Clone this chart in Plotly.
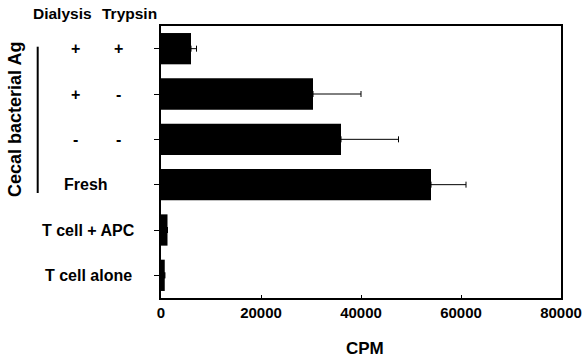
import plotly.graph_objects as go

# Data
row_ids = ["r1", "r2", "r3", "r4", "r5", "r6"]
dialysis = ["+", "+", "-", "", "", ""]
trypsin = ["+", "-", "-", "", "", ""]
row_labels = ["", "", "", "Fresh", "T cell + APC", "T cell alone"]
cpm = [6000, 30400, 36000, 54000, 1300, 750]
cpm_err = [1100, 9600, 11500, 7000, 0, 0]
x_ticks = [0, 20000, 40000, 60000, 80000]

FONT = "Liberation Sans, Arial, Helvetica, sans-serif"

fig = go.Figure()
fig.add_trace(go.Bar(
    y=row_ids, x=cpm, orientation="h",
    marker=dict(color="black", line=dict(width=0)),
    width=0.69,
    error_x=dict(type="data", array=cpm_err, arrayminus=[0]*len(cpm_err),
                 symmetric=False, color="black", thickness=1, width=3),
))

L, R, T, B = 161, 21, 26, 63
W, H = 582, 361
pw, ph = W - L - R, H - T - B

def px_x(x):
    return (x - L) / pw

def px_y(y):
    return (H - B - y) / ph

ann = []
bold = dict(family=FONT, size=16, color="black", weight="bold")
hdr = dict(family=FONT, size=15.5, color="black", weight="bold")
ann.append(dict(text="Dialysis", x=px_x(62.5), y=px_y(13.5), xref="paper", yref="paper",
                showarrow=False, xanchor="center", yanchor="middle", font=hdr))
ann.append(dict(text="Trypsin", x=px_x(129.5), y=px_y(13.5), xref="paper", yref="paper",
                showarrow=False, xanchor="center", yanchor="middle", font=hdr))
for rid, d, t, lab in zip(row_ids, dialysis, trypsin, row_labels):
    if d:
        ann.append(dict(text=d, x=px_x(75), y=rid, xref="paper", yref="y",
                        showarrow=False, xanchor="center", yanchor="middle", font=bold))
    if t:
        ann.append(dict(text=t, x=px_x(118), y=rid, xref="paper", yref="y",
                        showarrow=False, xanchor="center", yanchor="middle", font=bold))
    if lab:
        cx = 86 if lab == "Fresh" else 88
        ann.append(dict(text=lab, x=px_x(cx), y=rid, xref="paper", yref="y",
                        showarrow=False, xanchor="center", yanchor="middle", font=bold))
ann.append(dict(text="Cecal bacterial Ag", x=px_x(15), y=px_y(120), xref="paper", yref="paper",
                showarrow=False, xanchor="center", yanchor="middle", textangle=-90,
                font=dict(family=FONT, size=18, color="black", weight="bold")))
ann.append(dict(text="CPM", x=px_x(365), y=px_y(348), xref="paper", yref="paper",
                showarrow=False, xanchor="center", yanchor="middle",
                font=dict(family=FONT, size=17, color="black", weight="bold")))

fig.update_layout(
    width=W, height=H,
    margin=dict(l=L, r=R, t=T, b=B, autoexpand=False),
    paper_bgcolor="white", plot_bgcolor="white",
    showlegend=False,
    bargap=0.31,
    annotations=ann,
    shapes=[dict(type="line", xref="paper", yref="paper",
                 x0=px_x(37.7), x1=px_x(37.7), y0=px_y(46.7), y1=px_y(193),
                 line=dict(color="black", width=2))],
    xaxis=dict(range=[0, 80000], tickvals=x_ticks, ticktext=[str(v) for v in x_ticks],
               ticks="inside", ticklen=3, tickcolor="black", automargin=False,
               showline=True, linecolor="black", linewidth=1.5, mirror=True,
               showgrid=False, zeroline=False,
               tickfont=dict(family=FONT, size=15, color="black", weight="bold")),
    yaxis=dict(categoryorder="array", categoryarray=row_ids, autorange="reversed",
               tickvals=row_ids, ticktext=[""]*len(row_ids), automargin=False,
               ticks="outside", ticklen=5, tickcolor="black",
               showline=True, linecolor="black", linewidth=1.5, mirror=True,
               showgrid=False, zeroline=False),
)

fig.write_html(
    "out.html",
    config={"displayModeBar": False},
    post_script="document.body.style.margin='0';document.body.style.padding='0';"
                "document.body.style.overflow='hidden';",
)
